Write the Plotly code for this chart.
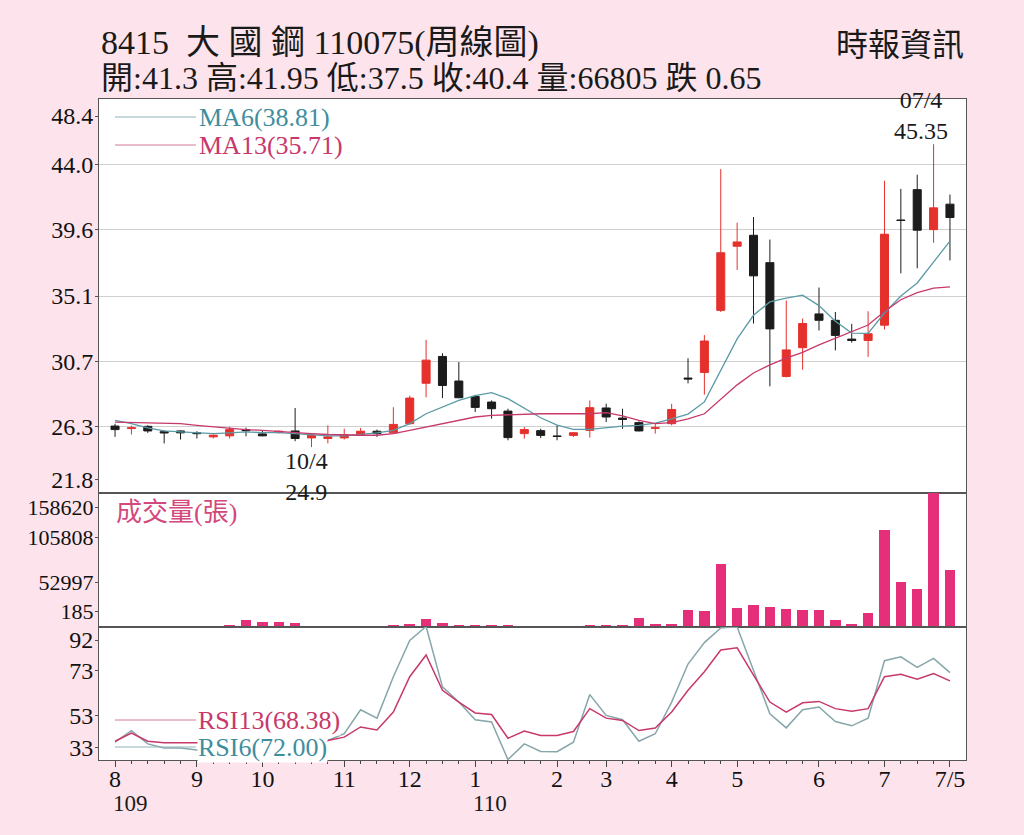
import plotly.graph_objects as go

# page box of the three stacked panels (pixels in the browser window)
L, R, T, B = 99, 966, 99, 760
SEP1, SEP2 = 493, 626.5
BODY = 8  # default html body margin around the figure
BG = "#fde4ec"

weeks = list(range(52))
opens = [26.32, 26.15, 26.30, 25.94, 25.99, 25.86, 25.59, 25.66, 26.08, 25.79,
         25.88, 25.99, 25.52, 25.48, 25.52, 25.70, 25.97, 25.86, 26.48, 29.21,
         31.02, 29.36, 28.32, 27.94, 27.33, 25.81, 26.01, 25.65, 25.69, 26.03,
         27.54, 26.86, 26.55, 26.17, 26.48, 29.56, 29.94, 34.13, 38.46, 39.20,
         37.35, 29.67, 31.61, 33.89, 33.46, 32.19, 32.10, 33.13, 40.23, 42.28,
         39.58, 41.30]
highs = [26.48, 26.35, 26.37, 26.03, 26.03, 25.97, 25.75, 26.26, 26.21, 26.03,
         26.03, 27.54, 25.75, 26.37, 26.14, 26.19, 26.08, 27.59, 28.37, 32.14,
         31.24, 30.64, 28.43, 28.05, 27.49, 26.26, 26.14, 26.37, 25.92, 28.05,
         27.83, 27.49, 26.64, 26.48, 27.82, 30.90, 32.46, 43.67, 40.05, 40.43,
         38.91, 34.80, 33.58, 35.67, 34.02, 33.22, 34.07, 42.88, 42.33, 43.29,
         45.35, 41.95]
lows = [25.59, 25.75, 25.86, 25.15, 25.41, 25.48, 25.48, 25.48, 25.63, 25.63,
        25.81, 25.30, 24.90, 25.15, 25.41, 25.66, 25.59, 25.79, 26.41, 28.26,
        28.21, 28.21, 27.27, 26.82, 25.36, 25.47, 25.51, 25.36, 25.58, 25.54,
        26.59, 26.14, 25.96, 25.81, 26.37, 29.20, 28.44, 34.02, 36.86, 33.24,
        29.00, 29.60, 30.12, 32.77, 31.43, 31.95, 30.99, 32.84, 36.63, 36.97,
        38.69, 37.50]
closes = [26.08, 26.20, 25.99, 25.86, 25.86, 25.81, 25.70, 26.08, 26.01, 25.66,
          25.97, 25.48, 25.70, 25.59, 25.74, 25.97, 25.81, 26.43, 28.21, 30.77,
          29.06, 28.23, 27.58, 27.49, 25.54, 26.08, 25.69, 25.62, 25.87, 27.56,
          26.93, 26.77, 25.99, 26.20, 27.44, 29.50, 32.06, 38.02, 38.75, 36.46,
          32.88, 31.46, 33.24, 33.46, 32.44, 32.10, 32.55, 39.27, 40.20, 39.54,
          41.05, 40.40]
ma6 = [26.70, 26.48, 26.19, 25.99, 25.92, 25.88, 25.81, 25.86, 25.92, 25.88,
       25.88, 25.81, 25.75, 25.66, 25.66, 25.75, 25.86, 26.03, 26.48, 27.15,
       27.60, 28.05, 28.38, 28.57, 28.17, 27.50, 26.88, 26.39, 26.10, 26.10,
       26.21, 26.32, 26.37, 26.52, 26.80, 27.13, 27.95, 30.10, 32.20, 33.80,
       34.70, 34.95, 35.16, 34.45, 33.40, 32.60, 32.58, 33.95, 35.10, 35.98,
       37.38, 38.81]
ma13 = [26.59, 26.55, 26.55, 26.52, 26.48, 26.37, 26.26, 26.15, 26.08, 26.03,
        25.97, 25.92, 25.81, 25.75, 25.70, 25.70, 25.70, 25.81, 26.03, 26.26,
        26.52, 26.70, 26.93, 27.04, 27.08, 27.13, 27.15, 27.15, 27.15, 27.15,
        27.22, 27.00, 26.70, 26.48, 26.55, 26.81, 27.15, 28.10, 29.10, 29.90,
        30.45, 30.90, 31.30, 31.80, 32.25, 32.68, 33.14, 34.05, 34.85, 35.33,
        35.63, 35.71]
volume = [300, 250, 350, 400, 300, 250, 450, 1600, 7950, 5960,
          5960, 3970, 500, 400, 350, 300, 450, 1600, 3200, 9500,
          4000, 2400, 1200, 1200, 1200, 600, 400, 185, 500, 1600,
          1200, 1200, 9900, 3200, 3200, 20300, 19100, 74700, 22200, 25400,
          23800, 21100, 20300, 20300, 7500, 3200, 16700, 115200, 52900, 44900,
          158620, 66805]
rsi13 = [41.7, 45.3, 41.7, 41.0, 41.0, 41.0, 41.0, 41.5, 41.5, 41.0,
         41.0, 40.5, 41.0, 42.0, 43.5, 48.0, 46.7, 54.6, 70.2, 79.8,
         64.2, 59.0, 54.2, 53.5, 43.0, 46.2, 44.2, 44.2, 46.0, 56.1,
         51.9, 50.9, 46.4, 47.5, 54.6, 64.2, 72.4, 82.0, 83.0, 70.9,
         59.0, 54.6, 58.7, 59.3, 56.1, 55.0, 56.1, 70.2, 71.3, 69.1,
         71.6, 68.38]
rsi6 = [41.3, 46.4, 40.5, 38.7, 38.7, 37.8, 37.5, 40.0, 39.0, 38.0,
        38.5, 37.0, 38.0, 42.0, 45.0, 55.6, 51.9, 70.2, 86.2, 92.4,
        65.7, 59.0, 51.2, 50.2, 33.6, 40.5, 37.2, 37.1, 41.3, 62.3,
        53.1, 51.2, 41.7, 45.0, 59.0, 75.8, 85.3, 91.8, 92.2, 73.1,
        53.8, 47.6, 55.6, 56.8, 50.4, 48.5, 51.9, 77.3, 79.0, 74.3,
        78.3, 72.00]

month_pos = [0, 5, 9, 14, 18, 22, 27, 30, 34, 38, 43, 47, 51]
month_text = ["8", "9", "10", "11", "12", "1", "2", "3", "4", "5", "6", "7", "7/5"]

price_ticks = [47.25, 44.0, 39.6, 35.1, 30.7, 26.3, 22.68]
price_text = ["48.4", "44.0", "39.6", "35.1", "30.7", "26.3", "21.8"]
price_grid = [44.0, 39.6, 35.1, 30.7, 26.3]
vol_ticks = [141400, 105808, 52997, 17750]
vol_text = ["158620", "105808", "52997", "185"]
rsi_ticks = [86.4, 73, 53, 39.1]
rsi_text = ["92", "73", "53", "33"]

RED = "#e5302c"
BLACK = "#1c1c1c"
TEAL = "#5a9aa6"
TEAL_TXT = "#3f8e9e"
CRIMSON = "#c7386b"
PINK = "#e62f79"
FONT = "Liberation Serif, Noto Sans CJK TC, serif"


def px(x):
    return (x - L) / (R - L)


def py(y):
    return (B - y) / (B - T)


fig = go.Figure()
fig.add_trace(go.Candlestick(
    x=weeks, open=opens, high=highs, low=lows, close=closes,
    increasing=dict(line=dict(color=RED, width=1), fillcolor=RED),
    decreasing=dict(line=dict(color=BLACK, width=1), fillcolor=BLACK),
    whiskerwidth=0, hoverinfo="skip", xaxis="x", yaxis="y"))
fig.add_trace(go.Scatter(x=weeks, y=ma6, mode="lines", line=dict(color=TEAL, width=1.3),
                         hoverinfo="skip", xaxis="x", yaxis="y"))
fig.add_trace(go.Scatter(x=weeks, y=ma13, mode="lines", line=dict(color=CRIMSON, width=1.3),
                         hoverinfo="skip", xaxis="x", yaxis="y"))
fig.add_trace(go.Bar(x=weeks, y=volume, width=0.64, marker=dict(color=PINK, line=dict(width=0)),
                     hoverinfo="skip", xaxis="x2", yaxis="y2"))
fig.add_trace(go.Scatter(x=weeks, y=rsi6, mode="lines", line=dict(color="#86a6aa", width=1.5),
                         hoverinfo="skip", xaxis="x3", yaxis="y3"))
fig.add_trace(go.Scatter(x=weeks, y=rsi13, mode="lines", line=dict(color=CRIMSON, width=1.5),
                         hoverinfo="skip", xaxis="x3", yaxis="y3"))

xcommon = dict(range=[-0.98, 51.98], showline=True, mirror=True, linecolor="#555",
               linewidth=1, showgrid=False, zeroline=False, fixedrange=True)
ycommon = dict(showline=True, mirror=True, linecolor="#555", linewidth=1, showgrid=False,
               zeroline=False, ticks="outside", ticklen=3, tickcolor="#555",
               ticklabelstandoff=-3, tickmode="array")

i_hi = highs.index(max(highs))
i_lo = lows.index(min(lows))

annotations = [
    dict(text="8415\u00a0\u00a0大 國 鋼 110075(周線圖)", x=px(99), y=py(43), xanchor="left",
         font=dict(size=34)),
    dict(text="開:41.3 高:41.95 低:37.5 收:40.4 量:66805 跌 0.65", x=px(99), y=py(78),
         xanchor="left", font=dict(size=32)),
    dict(text="時報資訊", x=px(966), y=py(45), xanchor="right", font=dict(size=32)),
    dict(text="MA6(38.81)", x=px(197), y=py(117), xanchor="left",
         font=dict(size=26, color=TEAL_TXT)),
    dict(text="MA13(35.71)", x=px(197), y=py(145), xanchor="left",
         font=dict(size=26, color=CRIMSON)),
    dict(text="成交量(張)", x=px(114), y=py(512), xanchor="left",
         font=dict(size=26, color="#d2497c")),
    dict(text="RSI13(68.38)", x=px(197), y=py(720), xanchor="left", bgcolor="white",
         borderpad=0, font=dict(size=26, color=CRIMSON)),
    dict(text="RSI6(72.00)", x=px(197), y=py(747), xanchor="left", bgcolor="white",
         borderpad=0, font=dict(size=26, color=TEAL_TXT)),
    dict(text="109", x=0, xref="x3", y=py(803), xanchor="left", xshift=-4,
         font=dict(size=23)),
    dict(text="110", x=22, xref="x3", y=py(803), xanchor="left", xshift=-4,
         font=dict(size=23)),
]
for a in annotations:
    a.setdefault("xref", "paper")
    a.setdefault("yref", "paper")
    a.setdefault("yanchor", "middle")
    a["showarrow"] = False
    a["font"].setdefault("color", "#1a1a1a")
    a["font"]["family"] = FONT

annotations += [
    dict(text="07/4<br>45.35", x=i_hi, y=highs[i_hi], xref="x", yref="y", xanchor="center",
         yanchor="bottom", xshift=-13, yshift=-2, showarrow=False,
         font=dict(family=FONT, size=24, color="#1a1a1a")),
    dict(text="10/4<br>24.9", x=i_lo, y=lows[i_lo], xref="x", yref="y", xanchor="center",
         yanchor="top", xshift=-5, yshift=1, showarrow=False,
         font=dict(family=FONT, size=24, color="#1a1a1a")),
]

shapes = []
for yy, col in [(117, "#8fb3ba"), (145, "#d27a98"), (720, "#d27a98"), (747, "#8fb3ba")]:
    shapes.append(dict(type="line", xref="paper", yref="paper", x0=px(115), x1=px(196),
                       y0=py(yy), y1=py(yy), line=dict(color=col, width=1)))

fig.update_layout(
    width=1024 - BODY, height=835 - BODY,
    margin=dict(l=L - BODY, r=1024 - R, t=T - BODY, b=835 - B),
    paper_bgcolor=BG, plot_bgcolor="white",
    showlegend=False, bargap=0, boxgap=0.3,
    font=dict(family=FONT, color="#1a1a1a"),
    xaxis=dict(xcommon, anchor="y", showticklabels=False, ticks="",
               rangeslider=dict(visible=False)),
    xaxis2=dict(xcommon, anchor="y2", matches="x", showticklabels=False, ticks=""),
    xaxis3=dict(xcommon, anchor="y3", matches="x", tickmode="array", tickvals=month_pos,
                ticktext=month_text, ticks="outside", ticklen=6, tickcolor="#444",
                ticklabelstandoff=-9,
                tickfont=dict(family=FONT, size=24, color="#111"),
                minor=dict(dtick=1, tick0=0, ticks="outside", ticklen=3, tickcolor="#444")),
    yaxis=dict(ycommon, domain=[py(SEP1), 1], range=[21.8, 48.4], tickvals=price_ticks,
               ticktext=price_text, tickfont=dict(family=FONT, size=24, color="#111"),
               minor=dict(tickmode="array", tickvals=price_grid,
                          showgrid=True, gridcolor="#cfcfcf", gridwidth=1, ticks="")),
    yaxis2=dict(ycommon, domain=[py(SEP2), py(SEP1)], range=[185, 158620],
                tickvals=vol_ticks, ticktext=vol_text,
                tickfont=dict(family=FONT, size=22, color="#111")),
    yaxis3=dict(ycommon, domain=[0, py(SEP2)], range=[33.4, 92.4],
                tickvals=rsi_ticks, ticktext=rsi_text,
                tickfont=dict(family=FONT, size=24, color="#111")),
    annotations=annotations,
    shapes=shapes,
)

# paint the page margin around the figure in the same pink
fig.write_html("out.html", post_script=f"document.body.style.backgroundColor = '{BG}';")
